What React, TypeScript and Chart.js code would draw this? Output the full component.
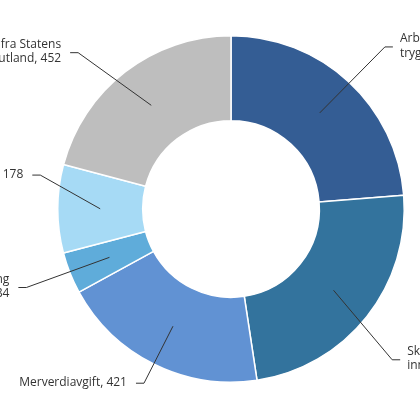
import React, { useEffect, useRef } from "react";
import { Chart, registerables } from "chart.js";

Chart.register(...registerables);

// ---- data ----
const categories = [
  "Arbeidsgiveravgift og trygdeavgift",
  "Skatt på inntekt og formue",
  "Merverdiavgift",
  "Renter og utbytte, tilbakebetaling av lån",
  "Andre inntekter",
  "Overføring fra Statens pensjonsfond utland",
];
const values = [514, 517, 421, 84, 178, 452];
// how each category label is broken into lines (value appended to last line)
const labelLines = [
  ["Arbeidsgiveravgift og", "trygdeavgift"],
  ["Skatt på formue og", "inntekt"],
  ["Merverdiavgift"],
  ["Renter og utbytte, tilbakebetaling", "av lån"],
  ["Andre inntekter"],
  ["Overføring fra Statens", "pensjonsfond utland"],
];

// ---- styles / layout ----
const colors = ["#345D94", "#33739D", "#6192D3", "#5FACDA", "#A6DAF5", "#BEBEBE"];
// leader elbow placement: angle offset (deg) from slice middle, radius factor of outer radius
const leaderLayout = [
  { da: 0.8, rf: 1.29 },
  { da: 4.7, rf: 1.274 },
  { da: 0.2, rf: 1.124 },
  { da: 0.7, rf: 1.265 },
  { da: 10, rf: 1.118 },
  { da: -6.8, rf: 1.262 },
];

const leaderPlugin = {
  id: "leaders",
  afterDatasetsDraw(chart: any) {
    const ctx = chart.ctx;
    const meta = chart.getDatasetMeta(0);
    ctx.save();
    ctx.font = '12px "Open Sans"';
    ctx.fillStyle = "#333333";
    ctx.strokeStyle = "#333333";
    ctx.lineWidth = 1;
    meta.data.forEach((arc: any, i: number) => {
      const p = arc.getProps(["x", "y", "startAngle", "endAngle", "innerRadius", "outerRadius"], true);
      const mid = (p.startAngle + p.endAngle) / 2;
      const r0 = (p.innerRadius + p.outerRadius) / 2;
      const sx = p.x + r0 * Math.cos(mid);
      const sy = p.y + r0 * Math.sin(mid);
      const ea = mid + (leaderLayout[i].da * Math.PI) / 180;
      const er = p.outerRadius * leaderLayout[i].rf;
      const ex = p.x + er * Math.cos(ea);
      const ey = p.y + er * Math.sin(ea);
      const right = Math.cos(ea) > 0;
      const hx = ex + (right ? 8 : -8);
      ctx.beginPath();
      ctx.moveTo(sx, sy);
      ctx.lineTo(ex, ey);
      ctx.lineTo(hx, ey);
      ctx.stroke();
      const tx = hx + (right ? 7 : -9);
      ctx.textAlign = right ? "left" : "right";
      ctx.textBaseline = "middle";
      const lines = labelLines[i].slice();
      lines[lines.length - 1] = lines[lines.length - 1] + ", " + values[i];
      const lh = 14.5;
      lines.forEach((l: string, k: number) => {
        ctx.fillText(l, tx, ey - 1 + (k - (lines.length - 1) / 2) * lh);
      });
    });
    ctx.restore();
  },
};

export default function App() {
  const ref = useRef<HTMLCanvasElement>(null);
  useEffect(() => {
    if (!ref.current) return;
    const chart = new Chart(ref.current, {
      type: "doughnut",
      data: {
        labels: categories,
        datasets: [
          {
            data: values,
            backgroundColor: colors,
            borderColor: "#ffffff",
            borderWidth: 1.5,
          },
        ],
      },
      options: {
        animation: false,
        responsive: false,
        cutout: "51%",
        layout: { padding: { top: 35, bottom: 37, left: 57, right: 15 } },
        plugins: {
          legend: { display: false },
          tooltip: { enabled: false },
        },
      },
      plugins: [leaderPlugin],
    });
    return () => chart.destroy();
  }, []);
  return (
    <div style={{ position: "absolute", left: 0, top: 0, width: 420, height: 420, background: "#fff" }}>
      <canvas ref={ref} width={420} height={420} style={{ width: 420, height: 420 }} />
    </div>
  );
}
